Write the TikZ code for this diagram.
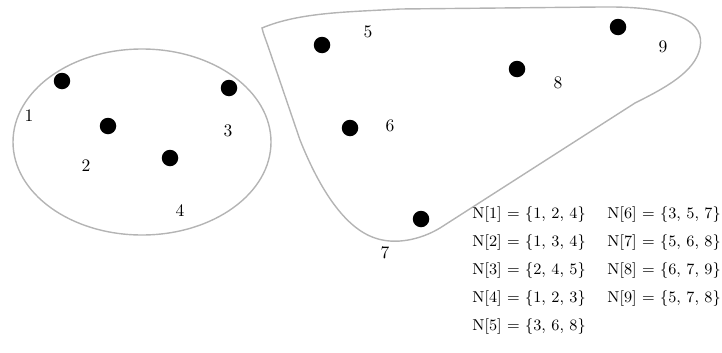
\documentclass[tikz,border=0pt]{standalone}
\usepackage{tikz}
\usetikzlibrary{positioning}
\definecolor{hullgray}{HTML}{B4B4B4}
\tikzset{
  vertex/.style={circle,fill=black,inner sep=0pt,minimum size=0.33cm},
  vlabel/.style={inner sep=0pt,font=\normalsize},
  nbrow/.style={anchor=west,inner sep=0pt,font=\small},
  hull/.style={draw=hullgray,line width=.8pt},
}

\begin{document}
\begin{tikzpicture}[x=0.02cm,y=-0.02cm]
		\useasboundingbox (0,0) rectangle (722,352);
		% the two groups
		\draw[hull] (142,142) ellipse [x radius=129,y radius=93];
		\draw[hull] (262,28) .. controls (300,12) and (350,12) .. (400,9) -- (600,7) .. controls (680,6) and (705,22) .. (700,48) .. controls (695,72) and (665,88) .. (635,103) -- (440,228) .. controls (420,240) and (395,245) .. (375,238) .. controls (345,228) and (320,190) .. (300,140) -- (270,52) .. controls (266,40) and (263,33) .. cycle;
		% vertices
		\node[vertex] (v1) at (62,81) {};
		\node[vertex] (v2) at (108,126) {};
		\node[vertex] (v3) at (229,88) {};
		\node[vertex] (v4) at (170,158) {};
		\node[vertex] (v5) at (322,45) {};
		\node[vertex] (v6) at (350,128) {};
		\node[vertex] (v7) at (421,219) {};
		\node[vertex] (v8) at (517,69) {};
		\node[vertex] (v9) at (618,27) {};
		% labels
		\node[vlabel] (l1) at (29,116) {1};
		\node[vlabel] (l2) at (86,166) {2};
		\node[vlabel] (l3) at (228,131) {3};
		\node[vlabel] (l4) at (180,211) {4};
		\node[vlabel] (l5) at (368,32) {5};
		\node[vlabel] (l6) at (390,126) {6};
		\node[vlabel] (l7) at (385,253) {7};
		\node[vlabel] (l8) at (558,83) {8};
		\node[vlabel] (l9) at (663,47) {9};
		% closed neighbourhoods
		\node[nbrow] (n1) at (472,215) {N[1] = \{1, 2, 4\}};
		\node[nbrow] (n2) at (472,243) {N[2] = \{1, 3, 4\}};
		\node[nbrow] (n3) at (472,271) {N[3] = \{2, 4, 5\}};
		\node[nbrow] (n4) at (472,299) {N[4] = \{1, 2, 3\}};
		\node[nbrow] (n5) at (472,327) {N[5] = \{3, 6, 8\}};
		\node[nbrow] (n6) at (607,215) {N[6] = \{3, 5, 7\}};
		\node[nbrow] (n7) at (607,243) {N[7] = \{5, 6, 8\}};
		\node[nbrow] (n8) at (607,271) {N[8] = \{6, 7, 9\}};
		\node[nbrow] (n9) at (607,299) {N[9] = \{5, 7, 8\}};
	\end{tikzpicture}
\end{document}
